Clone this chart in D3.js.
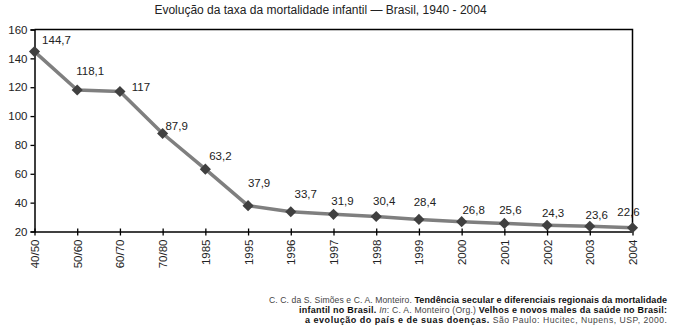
<!DOCTYPE html>
<html><head><meta charset="utf-8">
<script src="https://cdn.jsdelivr.net/npm/d3@7"></script>
<style>
body{margin:0;background:#fff;}
svg{display:block;font-family:"Liberation Sans",Arial,sans-serif;}
</style></head>
<body><svg id="c" width="674" height="330"></svg>
<script>
const categories = ["40/50","50/60","60/70","70/80","1985","1995","1996","1997","1998","1999","2000","2001","2002","2003","2004"];
const values = [144.7,118.1,117,87.9,63.2,37.9,33.7,31.9,30.4,28.4,26.8,25.6,24.3,23.6,22.6];
const valueLabels = ["144,7","118,1","117","87,9","63,2","37,9","33,7","31,9","30,4","28,4","26,8","25,6","24,3","23,6","22,6"];
const yTicks = [20,40,60,80,100,120,140,160];
const title = "Evolução da taxa da mortalidade infantil — Brasil, 1940 - 2004";

// layout: label nudges relative to each point (dx, dy of label centre)
const labelNudge = [[22,-12],[13,-19],[21,-5],[14,-8],[15,-13],[11,-23],[15,-18],[9,-13],[8,-16],[6,-17],[12,-12],[6,-13],[6,-12],[7,-11],[-4,-16]];

const svg = d3.select("#c");
const L = 34.5, R = 632.5, T = 29.5, B = 231.5;
const x = d3.scalePoint().domain(categories).range([L, R]);
const y = d3.scaleLinear().domain([20,160]).range([B, T]);

svg.append("text").attr("x", 320.5).attr("y", 14).attr("text-anchor","middle")
  .attr("font-size", 12).attr("fill","#222").text(title);

// frame top & right
svg.append("path").attr("d", `M${L},${T}H${R}V${B}`).attr("fill","none").attr("stroke","#000").attr("stroke-width",1.5);

// y axis
const ya = svg.append("g").attr("transform", `translate(${L},0)`)
  .call(d3.axisLeft(y).tickValues(yTicks).tickSize(4).tickPadding(3));
ya.select(".domain").attr("stroke","#000").attr("stroke-width",1.5);
ya.selectAll(".tick line").attr("stroke","#000").attr("stroke-width",1.3);
ya.selectAll(".tick text").attr("font-size",11.5).attr("fill","#222").attr("font-family","Liberation Sans, Arial, sans-serif");

// x axis
const xa = svg.append("g").attr("transform", `translate(0,${B})`)
  .call(d3.axisBottom(x).tickSize(4).tickSizeOuter(0));
xa.select(".domain").attr("stroke","#000").attr("stroke-width",1.5);
xa.selectAll(".tick line").attr("stroke","#000").attr("stroke-width",1.3).attr("y1",-3);
xa.selectAll(".tick text").attr("font-size",11.5).attr("fill","#222")
  .attr("font-family","Liberation Sans, Arial, sans-serif")
  .attr("transform","rotate(-90)").attr("text-anchor","end")
  .attr("x",-8).attr("y",0).attr("dy","0.35em");

// line
const pts = categories.map((c,i)=>[x(c), y(values[i])]);
svg.append("path").attr("d", d3.line()(pts)).attr("fill","none")
  .attr("stroke","#7f7f7f").attr("stroke-width",3.5).attr("stroke-linejoin","round");

// markers
svg.selectAll(".m").data(categories).join("path").attr("class","m")
  .attr("d", d3.symbol(d3.symbolSquare, 62)())
  .attr("transform",(c,i)=>`translate(${x(c)},${y(values[i])}) rotate(45)`)
  .attr("fill","#404040");

// value labels
svg.selectAll(".v").data(categories).join("text").attr("class","v")
  .attr("x",(c,i)=>x(c)+labelNudge[i][0])
  .attr("y",(c,i)=>y(values[i])+labelNudge[i][1])
  .attr("dy","0.35em").attr("text-anchor","middle")
  .attr("font-size",11.5).attr("fill","#222")
  .text((c,i)=>valueLabels[i]);

// source note
const lines = [
  [["C. C. da S. Simões e C. A. Monteiro. ","n"],["Tendência secular e diferenciais regionais da mortalidade","b"]],
  [["infantil no Brasil. ","b"],["In",  "i"],[": C. A. Monteiro (Org.) ","n"],["Velhos e novos males da saúde no Brasil:","b"]],
  [["a evolução do país e de suas doenças.","b"],[" São Paulo: Hucitec, Nupens, USP, 2000.","n"]]
];
const ly = [303, 313, 323];
const lineLen = [398, 368, 362];
lines.forEach((ln,k)=>{
  const t = svg.append("text").attr("x",667).attr("y",ly[k]).attr("font-size",8.6)
    .attr("text-anchor","end").attr("fill","#444");
  ln.forEach(([s,st])=>{
    const ts = t.append("tspan").text(s);
    if(st==="b") ts.attr("font-weight","bold").attr("fill","#111").attr("font-size",9);
    if(st==="i") ts.attr("font-style","italic");
  });
  t.attr("textLength", lineLen[k]).attr("lengthAdjust","spacing");
});
</script></body></html>
